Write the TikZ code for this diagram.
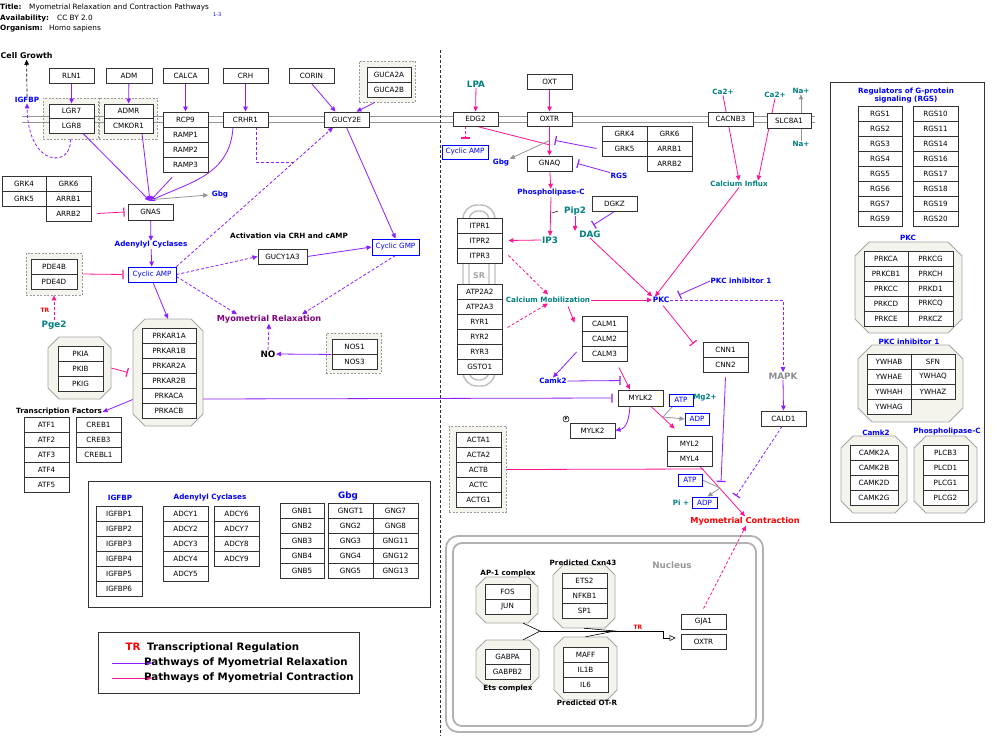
\documentclass[tikz,border=0pt]{standalone}
\usepackage{fontspec}
\setmainfont{DejaVu Sans}
\usetikzlibrary{arrows.meta}
\definecolor{pur}{RGB}{140,30,255}
\definecolor{pnk}{RGB}{255,20,147}
\definecolor{lblue}{RGB}{0,0,255}
\definecolor{tl}{RGB}{0,128,128}
\definecolor{mrel}{RGB}{128,0,128}
\definecolor{beige}{RGB}{244,244,236}
\definecolor{grline}{RGB}{150,150,150}
\newcommand\gf{\fontsize{7.2}{8}\selectfont}
\newcommand\lf{\fontsize{7.2}{8}\selectfont\bfseries}
\newcommand\lfb{\fontsize{8.8}{10}\selectfont\bfseries}
\newcommand\lfm{\fontsize{8.2}{9}\selectfont\bfseries}
\newcommand\hf{\fontsize{7.3}{8}\selectfont}
\newcommand\lgf{\fontsize{10.2}{11}\selectfont\bfseries}
\pgfdeclarelayer{back}\pgfdeclarelayer{mid}
\pgfsetlayers{back,mid,main}
\newcommand\gbx[7][gene]{\node[#1,minimum width={((#5)-(#3))*1pt},minimum height={((#6)-(#4))*1pt}] (#2) at ({((#3)+(#5))/2},{((#4)+(#6))/2}) {#7};}
\newcommand\gcol[5]{\foreach \gn [count=\ii] in {#5} {\gbx{#1\ii}{#2}{#4+(\ii-1)*15}{#3}{#4+\ii*15}{\gn}}}
\newcommand\octo[6]{\path[octst] ({#2+#6},{#3}) -- ({#4-#6},{#3}) -- ({#4},{#3+#6}) -- ({#4},{#5-#6}) -- ({#4-#6},{#5}) -- ({#2+#6},{#5}) -- ({#2},{#5-#6}) -- ({#2},{#3+#6}) -- cycle;
\node[inner sep=0,minimum width={(#4-#2)*1pt},minimum height={(#5-#3)*1pt}] (#1) at ({(#2+#4)/2},{(#3+#5)/2}) {};}
\tikzset{
 gene/.style={draw=black!80,fill=white,line width=0.9pt,inner sep=0pt,font=\gf},
 cbox/.style={draw=lblue,fill=white,line width=0.9pt,inner sep=0pt,font=\gf,text=lblue},
 grp/.style={draw=black!40,dash pattern=on 2pt off 1.5pt,fill=beige,line width=0.8pt,inner sep=0pt},
 octst/.style={draw=black!35,fill=beige,line width=0.8pt},
 lbl/.style={inner sep=0.5pt,font=\lf},
 tip/.style={-{Triangle[length=5pt,width=4.5pt]}},
 bar/.style={-{Bar[width=9pt,line width=1.2pt]}},
 pl/.style={draw=pur,line width=0.8pt},
 kl/.style={draw=pnk,line width=0.8pt},
 gl/.style={draw=grline,line width=0.8pt},
 dsh/.style={dash pattern=on 3pt off 2pt},
}
\begin{document}
\begin{tikzpicture}[x=1pt,y=-1pt]
\useasboundingbox (0,0) rectangle (1000,743);
\begin{pgfonlayer}{back}
\fill[white] (0,0) rectangle (1000,743);
\gbx[grp]{gucaG}{359}{61}{415}{102}{}
\gbx[grp]{lgrG}{43}{98}{98}{139}{}
\gbx[grp]{admrG}{99}{98}{157}{139}{}
\gbx[grp]{pdeG}{26}{253}{82}{295}{}
\gbx[grp]{nosG}{326}{333}{381}{373}{}
\gbx[grp]{actG}{449}{426}{506}{512}{}
\octo{prkG}{133}{319}{203}{426}{12}
\octo{pkiG}{48}{337}{111}{399}{11}
\octo{ap1O}{476}{577}{538}{623}{10}
\octo{cxnO}{553}{565}{615}{628}{10}
\octo{etsO}{476}{640}{539}{687}{10}
\octo{otrO}{554}{637}{617}{700}{10}
\octo{pkcO}{855}{242}{962}{333}{14}
\octo{pkciO}{858}{345}{963}{422}{14}
\octo{camkO}{841}{436}{907}{513}{12}
\octo{plcO}{914}{436}{977}{513}{12}
\draw[grline,line width=1.6pt] (22,116.5) -- (815,116.5) (22,122.5) -- (815,122.5);
\draw[black!25,line width=1.4pt,rounded corners=14pt] (463,205) rectangle (495,386);
\draw[black!25,line width=1.4pt,rounded corners=9pt] (469,211) rectangle (489,380);
\draw[black!30,line width=1.8pt,rounded corners=12pt] (446,536) rectangle (763,732);
\draw[black!30,line width=1.8pt,rounded corners=9pt] (453,543) rectangle (756,726);
\draw[black!80,line width=0.8pt] (88,481) rectangle (430,607);
\draw[black!80,line width=0.8pt] (98,632) rectangle (359,693);
\draw[black!80,line width=0.8pt] (830,82) rectangle (984,522);
\draw[black!80,line width=0.7pt,dash pattern=on 3pt off 2pt] (440,50) -- (440,736);
\end{pgfonlayer}
% header
\node[anchor=base west,inner sep=0,font=\hf\bfseries] (h1) at (0,10) {Title:};
\node[anchor=base west,inner sep=0,font=\hf] (h1v) at (29,10) {Myometrial Relaxation and Contraction Pathways};
\node[anchor=base west,inner sep=0,font=\fontsize{5}{6}\selectfont,text=lblue] (href) at (213,17) {1-3};
\node[anchor=base west,inner sep=0,font=\hf\bfseries] (h2) at (0,21) {Availability:};
\node[anchor=base west,inner sep=0,font=\hf] (h2v) at (57,21) {CC BY 2.0};
\node[anchor=base west,inner sep=0,font=\hf\bfseries] (h3) at (0,31) {Organism:};
\node[anchor=base west,inner sep=0,font=\hf] (h3v) at (49,31) {Homo sapiens};
% left genes
\gbx{RLN1}{49}{68}{94}{83}{RLN1}
\gbx{ADM}{106}{68}{152}{83}{ADM}
\gbx{CALCA}{163}{68}{208}{83}{CALCA}
\gbx{CRH}{223}{68}{268}{83}{CRH}
\gbx{CORIN}{289}{68}{334}{83}{CORIN}
\gbx{GUCA2A}{367}{67}{411}{82}{GUCA2A}
\gbx{GUCA2B}{367}{82}{411}{97}{GUCA2B}
\gbx{LGR7}{49}{104}{94}{118}{LGR7}
\gbx{LGR8}{49}{118}{94}{133}{LGR8}
\gbx{ADMR}{104}{104}{153}{118}{ADMR}
\gbx{CMKOR1}{104}{118}{153}{133}{CMKOR1}
\gcol{ramp}{163}{208}{112}{RCP9,RAMP1,RAMP2,RAMP3}
\gbx{CRHR1}{223}{112}{268}{127}{CRHR1}
\gbx{GUCY2E}{324}{112}{369}{127}{GUCY2E}
\gcol{lg}{2}{46}{176}{GRK4,GRK5}
\gcol{lh}{46}{91}{176}{GRK6,ARRB1,ARRB2}
\gbx{GNAS}{128}{204}{173}{220}{GNAS}
\gbx[cbox]{camp}{128}{267}{176}{282}{Cyclic AMP}
\gcol{pde}{31}{77}{259}{PDE4B,PDE4D}
\gbx{GUCY1A3}{258}{249}{307}{264}{GUCY1A3}
\gbx[cbox]{cgmp}{372}{239}{419}{255}{Cyclic GMP}
\gcol{nos}{332}{377}{339}{NOS1,NOS3}
\gcol{prk}{142}{196}{328}{PRKAR1A,PRKAR1B,PRKAR2A,PRKAR2B,PRKACA,PRKACB}
\gcol{pki}{58}{103}{346}{PKIA,PKIB,PKIG}
\gcol{atf}{24}{69}{417}{ATF1,ATF2,ATF3,ATF4,ATF5}
\gcol{creb}{76}{121}{417}{CREB1,CREB3,CREBL1}
\gcol{igf}{96}{142}{506}{IGFBP1,IGFBP2,IGFBP3,IGFBP4,IGFBP5,IGFBP6}
\gcol{adcyA}{163}{208}{506}{ADCY1,ADCY2,ADCY3,ADCY4,ADCY5}
\gcol{adcyB}{214}{259}{506}{ADCY6,ADCY7,ADCY8,ADCY9}
\gcol{gnb}{280}{324}{503}{GNB1,GNB2,GNB3,GNB4,GNB5}
\gcol{gngA}{328}{373}{503}{GNGT1,GNG2,GNG3,GNG4,GNG5}
\gcol{gngB}{373}{418}{503}{GNG7,GNG8,GNG11,GNG12,GNG13}
% left labels
\node[lbl,anchor=west,font=\fontsize{7.9}{9}\selectfont\bfseries] (cg) at (0,56) {Cell Growth};
\node[lbl,text=lblue] (igfbpL) at (27,100) {IGFBP};
\node[lbl,text=lblue] (gbgL) at (220,195) {Gbg};
\node[lbl,text=lblue] (acL) at (151,245) {Adenylyl Cyclases};
\node[lbl,font=\lfb,text=tl] (pge2L) at (54,325) {Pge2};
\node[lbl,font=\fontsize{6}{7}\selectfont\bfseries,text=red] (trA) at (45,310) {TR};
\node[lbl] (actL) at (289,236) {Activation via CRH and cAMP};
\node[lbl,font=\lfm,text=mrel] (mrelL) at (269,319) {Myometrial Relaxation};
\node[lbl,font=\lfb] (noL) at (268,354) {NO};
\node[lbl] (tfL) at (59,412) {Transcription Factors};
\node[lbl,text=lblue] (igL2) at (120,498) {IGFBP};
\node[lbl,text=lblue] (acL2) at (210,498) {Adenylyl Cyclases};
\node[lbl,font=\lfb,text=lblue] (gbgL2) at (348,496) {Gbg};
\node[lbl,font=\lgf,text=red] (trLeg) at (133,647) {TR};
\node[anchor=west,inner sep=0,font=\lgf] (trLegT) at (147,648) {Transcriptional Regulation};
\node[anchor=west,inner sep=0,font=\lgf] (lgtA) at (144,663) {Pathways of Myometrial Relaxation};
\node[anchor=west,inner sep=0,font=\lgf] (lgtB) at (144,678) {Pathways of Myometrial Contraction};
\coordinate (lgA) at (112,663);
\coordinate (lgB) at (112,678);
% right genes
\gbx{EDG2}{453}{112}{498}{126}{EDG2}
\gbx{OXT}{527}{74}{572}{89}{OXT}
\gbx{OXTR}{527}{112}{572}{126}{OXTR}
\gbx[cbox]{camp2}{442}{145}{488}{159}{Cyclic AMP}
\gbx{GNAQ}{527}{156}{572}{171}{GNAQ}
\gcol{rg}{602}{647}{126}{GRK4,GRK5}
\gcol{rh}{647}{692}{126}{GRK6,ARRB1,ARRB2}
\gbx{DGKZ}{592}{196}{637}{211}{DGKZ}
\gcol{itpr}{457.5}{502}{218}{ITPR1,ITPR2,ITPR3}
\gcol{sr}{457.5}{502}{284}{ATP2A2,ATP2A3,RYR1,RYR2,RYR3,GSTO1}
\gbx{CACNB3}{708}{112}{753}{126}{CACNB3}
\gbx{SLC8A1}{767}{113}{811}{128}{SLC8A1}
\gcol{calm}{582}{627}{316}{CALM1,CALM2,CALM3}
\gcol{cnn}{703}{748}{342}{CNN1,CNN2}
\gbx{CALD1}{761}{411}{806}{426}{CALD1}
\gbx{MYLK2}{618}{390}{663}{406}{MYLK2}
\gbx{mylk2p}{570}{423}{615}{438}{MYLK2}
\gbx[cbox]{atp1}{669}{394}{693}{406}{ATP}
\gbx[cbox]{adp1}{685}{413}{709}{425}{ADP}
\gcol{myl}{667}{712}{436}{MYL2,MYL4}
\gcol{act}{456}{501}{432}{ACTA1,ACTA2,ACTB,ACTC,ACTG1}
\gbx[cbox]{atp2}{678}{474}{702}{486}{ATP}
\gbx[cbox]{adp2}{692}{497}{717}{508}{ADP}
\gbx{GJA1}{681}{614}{726}{629}{GJA1}
\gbx{oxtrN}{681}{634}{726}{649}{OXTR}
\gcol{ap}{485}{530}{584}{FOS,JUN}
\gcol{cx}{562}{607}{573.5}{ETS2,NFKB1,SP1}
\gcol{gab}{485}{530}{649}{GABPA,GABPB2}
\gcol{ot}{563}{608}{647}{MAFF,IL1B,IL6}
\gcol{rgsA}{858}{902}{106}{RGS1,RGS2,RGS3,RGS4,RGS5,RGS6,RGS7,RGS9}
\gcol{rgsB}{913}{958}{106}{RGS10,RGS11,RGS14,RGS16,RGS17,RGS18,RGS19,RGS20}
\gcol{pkcA}{864}{908}{251}{PRKCA,PRKCB1,PRKCC,PRKCD,PRKCE}
\gcol{pkcB}{908}{953}{251}{PRKCG,PRKCH,PRKD1,PRKCQ,PRKCZ}
\gcol{ywA}{867}{911}{354}{YWHAB,YWHAE,YWHAH,YWHAG}
\gcol{ywB}{911}{955}{354}{SFN,YWHAQ,YWHAZ}
\gcol{cmk}{850}{898}{445}{CAMK2A,CAMK2B,CAMK2D,CAMK2G}
\gcol{plc}{923}{968}{445}{PLCB3,PLCD1,PLCG1,PLCG2}
\node[circle,draw,line width=0.5pt,inner sep=0pt,minimum size=6pt,font=\fontsize{4}{4}\selectfont\bfseries] (pcirc) at (566,419) {P};
% right labels
\node[lbl,font=\lfb,text=tl] (lpaL) at (476,84) {LPA};
\node[lbl,text=lblue] (gbg2L) at (501,163) {Gbg};
\node[lbl,text=lblue] (rgsL) at (619,176) {RGS};
\node[lbl,text=lblue] (plcL) at (551,193) {Phospholipase-C};
\node[lbl,font=\lfb,text=tl] (pip2L) at (575,211) {Pip2};
\node[lbl,font=\lfb,text=tl] (dagL) at (590,234) {DAG};
\node[lbl,font=\lfb,text=tl] (ip3L) at (550,240) {IP3};
\node[lbl,font=\fontsize{8}{9}\selectfont\bfseries,text=black!35] (srL) at (479,276) {SR};
\node[lbl,text=tl] (camL) at (548,300) {Calcium Mobilization};
\node[lbl,font=\fontsize{7.5}{8}\selectfont\bfseries,text=lblue] (pkcL) at (661,300) {PKC};
\node[lbl,text=lblue] (pkciL) at (741,281) {PKC inhibitor 1};
\node[lbl,text=tl] (caiL) at (739,184) {Calcium Influx};
\node[lbl,text=tl] (ca1L) at (723,92) {Ca2+};
\node[lbl,text=tl] (ca2L) at (775,95) {Ca2+};
\node[lbl,text=tl] (na1L) at (801,91) {Na+};
\node[lbl,text=tl] (na2L) at (801,144) {Na+};
\node[lbl,font=\lfb,text=black!45] (mapkL) at (783,376) {MAPK};
\node[lbl,text=lblue] (camk2L) at (553,381) {Camk2};
\node[lbl,text=tl] (mgL) at (705,398) {Mg2+};
\node[lbl,text=tl] (piL) at (681,503) {Pi +};
\node[lbl,font=\lfm,text=red] (mcL) at (745,521) {Myometrial Contraction};
\node[lbl,font=\lfb,text=black!40] (nucL) at (672,565) {Nucleus};
\node[lbl] (ap1L) at (508,574) {AP-1 complex};
\node[lbl] (cxnL) at (583,563) {Predicted Cxn43};
\node[lbl] (etsL) at (508,689) {Ets complex};
\node[lbl] (otrL) at (587,703) {Predicted OT-R};
\node[lbl,font=\fontsize{6}{7}\selectfont\bfseries,text=red] (trB) at (638,627) {TR};
\node[lbl,align=center,text=lblue,font=\fontsize{7.2}{8}\selectfont\bfseries] (rgsT) at (906,96) {Regulators of G-protein\\signaling (RGS)};
\node[lbl,text=lblue] (pkcT) at (908,238) {PKC};
\node[lbl,text=lblue] (pkciT) at (909,342) {PKC inhibitor 1};
\node[lbl,text=lblue] (camkT) at (876,433) {Camk2};
\node[lbl,text=lblue] (plcT) at (947,432) {Phospholipase-C};
\coordinate (gin) at (150,201);
\coordinate (oxj) at (550,145);
\coordinate (gj1) at (663,417);
\coordinate (gj2) at (720,488);
\coordinate (actj) at (703,469);
\coordinate (cbar1) at (721,482);
\coordinate (cbar2) at (736,496);
\coordinate (tj1) at (540,631);
\coordinate (tj2) at (615,631);
\coordinate (tbend1) at (663,631);
\coordinate (tbend2) at (663,638);
\coordinate (pipj) at (552,213);
% edges
\begin{pgfonlayer}{mid}
\draw[black,line width=0.7pt,dsh,tip] (igfbpL.north) -- (cg.south);
\draw[pl,dsh,tip] (lgrG.south) .. controls (72,168) and (28,168) .. (igfbpL.south);
\draw[pl,tip] (RLN1) -- (LGR7);
\draw[pl,tip] (ADM) -- (ADMR);
\draw[pl,tip] (CALCA) -- (ramp1);
\draw[pl,tip] (CRH) -- (CRHR1);
\draw[pl,tip] (CORIN.south) -- ([xshift=-11pt]GUCY2E.north);
\draw[pl,tip] ([xshift=-12pt]gucaG.south) -- ([xshift=10pt]GUCY2E.north);
\draw[pl,tip] ([xshift=11.5pt]LGR8.south) -- (gin);
\draw[pl,tip] ([xshift=13.5pt]CMKOR1.south) -- (gin);
\draw[pl,tip] ([xshift=-13.5pt,yshift=-5pt]ramp4.south) -- (gin);
\draw[pl,tip] ([xshift=-12.5pt]CRHR1.south) .. controls (230,175) and (190,182) .. (gin);
\draw[pl,dsh] ([xshift=10.5pt]CRHR1.south) -- ++(0,35) -- ++(39,0);
\draw[gl,tip] ([xshift=1.5pt,yshift=4pt]GNAS.north) -- ([xshift=-3pt]gbgL.west);
\draw[kl,bar] ([xshift=6pt]lh3.east) -- ([xshift=-3pt]GNAS.west);
\draw[pl,tip] (GNAS) -- (acL);
\draw[pl,tip] (acL) -- (camp);
\draw[kl,bar] (pdeG.east) -- ([xshift=-4pt]camp.west);
\draw[kl,dsh,tip] (pge2L.north) -- (pdeG.south);
\draw[pl,dsh,tip] (camp.north east) -- ([xshift=-13.5pt]GUCY2E.south);
\draw[pl,dsh,tip] (camp.east) -- (GUCY1A3.west);
\draw[pl,dsh,tip] ([yshift=-2pt]camp.east) -- ([xshift=-32pt]mrelL.north);
\draw[pl,tip] (GUCY1A3.east) -- (cgmp.west);
\draw[pl,tip] (GUCY2E.south) -- (cgmp.north);
\draw[pl,dsh,tip] (cgmp.south) -- ([xshift=33pt]mrelL.north);
\draw[pl,dsh,tip] (noL.north) -- (mrelL.south);
\draw[pl,tip] (nos1.south west) -- (noL.east);
\draw[pl,tip] ([xshift=1pt]camp.south) -- (prkG.north);
\draw[kl,bar] (pkiG.east) -- ([xshift=-5pt]prkG.west);
\draw[pl,tip] ([yshift=-27pt]prkG.west) -- (tfL.east);
\draw[pl,bar] ([yshift=-26.5pt]prkG.east) -- ([xshift=-5pt]MYLK2.west);
\draw[pl,tip] (lgA) -- ([xshift=8pt]lgtA.west);
\draw[kl,tip] (lgB) -- ([xshift=8pt]lgtB.west);
% right
\draw[kl,tip] (lpaL) -- (EDG2);
\draw[kl,tip] (OXT) -- (OXTR);
\draw[kl,dsh,bar] ([xshift=-10.5pt]EDG2.south) -- ([yshift=6pt]camp2.north);
\draw[kl] ([xshift=1.5pt]EDG2.south) -- (oxj);
\draw[kl,tip] (OXTR) -- (GNAQ);
\draw[gl,tip] ([yshift=-14pt]OXTR.south) -- (gbg2L.north east);
\draw[pl,bar] ([xshift=-5pt]rg2.west) -- ([xshift=5.5pt,yshift=-14pt]OXTR.south);
\draw[pl,bar] (rgsL.north west) -- ([xshift=5pt]GNAQ.east);
\draw[kl,tip] (GNAQ) -- (plcL);
\draw[kl,tip] (plcL.south) -- (ip3L.north);
\draw[black,line width=0.5pt] (pipj) -- ([xshift=-5pt]pip2L.west);
\draw[kl,tip] (pip2L.south) -- ++(0,15);
\draw[pl,bar] (DGKZ.south) -- ([xshift=-8pt,yshift=5pt]dagL.north east);
\draw[kl,tip] (ip3L.west) -- ([xshift=6pt]itpr2.east);
\draw[kl,dsh,tip] ([xshift=6pt]itpr3.east) -- ([yshift=2pt]camL.north);
\draw[kl,dsh,tip] ([xshift=5pt,yshift=-6pt]sr3.east) -- (camL.south);
\draw[kl,tip] (camL.east) -- (pkcL.west);
\draw[kl,tip] (dagL.south) -- (pkcL.north west);
\draw[gl,tip] (na2L.north) -- (na1L.south);
\draw[kl,tip] (ca1L.south) -- (caiL.north);
\draw[kl,tip] (ca2L.south) -- ([xshift=19pt]caiL.north);
\draw[kl,tip] (caiL.south) -- ([xshift=-6pt]pkcL.north);
\draw[pl,bar] (pkciL.west) -- ([xshift=9pt,yshift=5pt]pkcL.east);
\draw[pl,dsh,tip] (pkcL.east) -| (mapkL.north);
\draw[pl,tip] (mapkL.south) -- (CALD1.north);
\draw[pl,dsh,bar] ([xshift=-1.5pt]CALD1.south) -- (cbar2);
\draw[kl,bar] ([xshift=2pt,yshift=-2pt]pkcL.south) -- ([xshift=-9pt,yshift=-2pt]cnn1.north west);
\draw[pl,bar] ([yshift=-5pt]cnn2.south) -- (cbar1);
\draw[kl,tip] ([xshift=20pt,yshift=-3pt]camL.south) -- ([xshift=-7pt,yshift=-7pt]calm1.north west);
\draw[pl,tip] ([xshift=-5pt,yshift=1.5pt]calm3.west) -- (camk2L.north);
\draw[pl,bar] (camk2L.east) -- ([xshift=3pt,yshift=9pt]MYLK2.north west);
\draw[kl,tip] ([xshift=14.5pt,yshift=-6pt]calm3.south) -- ([xshift=-10.5pt]MYLK2.north);
\draw[pl,tip] ([xshift=-10.5pt]MYLK2.south) .. controls (629,418) and (627,428) .. (mylk2p.east);
\draw[kl,tip] ([xshift=10.5pt]MYLK2.south) -- ([xshift=8pt,yshift=7pt]myl1.north west);
\draw[gl] ([xshift=4pt]atp1.south west) -- (gj1);
\draw[gl,tip] (gj1) -- (adp1.west);
\draw[kl,tip] ([xshift=10.5pt]myl2.south) -- (mcL.north);
\draw[kl] ([xshift=5pt]act3.east) -- (actj);
\draw[gl] (atp2.east) -- (gj2);
\draw[gl,tip] (gj2) -- ([xshift=3pt]adp2.north);
\draw[kl,dsh,tip] ([yshift=5pt]GJA1.north) -- ([xshift=1pt]mcL.south);
\draw[black,line width=0.6pt] ([xshift=-15pt]ap1O.south east) -- (tj1) -- ([xshift=-16pt]etsO.north east);
\draw[black,line width=0.6pt] (cxnO.south) -- (tj2) -- (otrO.north);
\draw[black,line width=0.6pt,-{Triangle[open,length=6pt,width=6pt]}] (tj1) -- (tbend1) -- (tbend2) -- ([xshift=-5pt,yshift=3.5pt]oxtrN.west);
\end{pgfonlayer}
\end{tikzpicture}
\end{document}
